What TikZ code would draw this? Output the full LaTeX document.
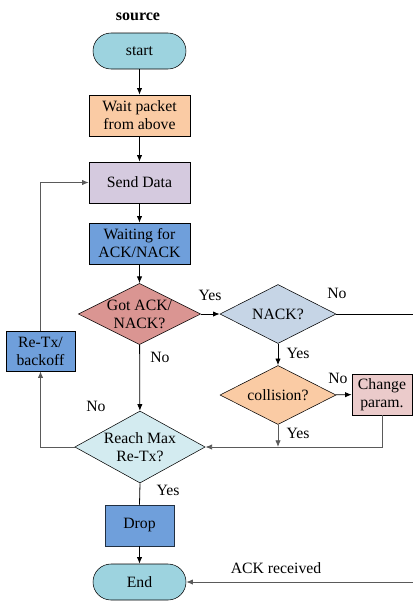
\documentclass[tikz,border=0pt]{standalone}
\usepackage{fontspec}
\setmainfont{Liberation Serif}
\newfontfamily\tnr{Liberation Serif}
\usepackage{xcolor}
\usepackage{tikz}
\usetikzlibrary{calc,shapes.geometric,arrows.meta}
\definecolor{termc}{HTML}{9DD3DF}
\definecolor{peach}{HTML}{FACBA4}
\definecolor{lilac}{HTML}{D5CADF}
\definecolor{blue}{HTML}{6F9FDB}
\definecolor{rose}{HTML}{DA9592}
\definecolor{steel}{HTML}{C6D5E6}
\definecolor{pinkc}{HTML}{EBCBCB}
\definecolor{ice}{HTML}{D3EBF0}
\definecolor{wire}{HTML}{5A5A5A}
\tikzset{
  term/.style={draw=black, fill=termc, rounded corners=13.5pt, minimum width=69.75pt, minimum height=27pt, lab},
  proc/.style={draw=black, rectangle, minimum width=75.75pt, minimum height=30.75pt, align=center, lab},
  small/.style={proc, minimum width=51.75pt, minimum height=30pt},
  dec/.style={draw=black, diamond, aspect=2, inner sep=0pt, minimum width=87pt, minimum height=44.25pt, align=center, lab},
  line/.style={draw=black, line width=0.6pt},
  lineg/.style={draw=wire, line width=0.6pt},
  arr/.style={line, -{Latex[length=5pt,width=4pt]}},
  arrg/.style={lineg, -{Latex[length=5pt,width=4pt]}},
  lab/.style={text=black, font=\tnr\fontsize{11.8}{13.5}\selectfont},
}

\begin{document}
\begin{tikzpicture}[x=0.75pt, y=-0.75pt]
  \useasboundingbox (0,0) rectangle (413,608);
  \node[font=\tnr\fontsize{12}{14}\selectfont\bfseries] (title) at (138,17) {source};

  \node[term] (start) at (139.5,51) {start};
  \node[proc, fill=peach] (wait) at (139.5,115.5) {Wait packet\\from above};
  \node[proc, fill=lilac] (send) at (139.5,182.5) {Send Data};
  \node[proc, fill=blue] (waitack) at (139.5,243.5) {Waiting for\\ACK/NACK};
  \node[dec, fill=rose] (got) at (139.5,314) {Got ACK/\\NACK?};
  \node[dec, fill=steel] (nack) at (278,314) {NACK?};
  \node[dec, fill=peach] (coll) at (278,395) {collision?};
  \node[proc, fill=pinkc, minimum width=45pt, minimum height=29.25pt] (change) at (382,394.5) {Change\\param.};
  \node[small, fill=blue] (retx) at (40.5,351) {Re-Tx/\\backoff};
  \node[dec, fill=ice, minimum width=93pt, minimum height=54pt] (reach) at (140,447) {Reach Max\\Re-Tx?};
  \node[small, fill=blue, draw=black!70!blue, minimum height=30.75pt] (drop) at (139.5,525.5) {Drop};
  \node[term] (end) at (139.5,582) {End};

  \coordinate (nackout) at (413,314);
  \coordinate (ackin) at (413,582);
  \coordinate (join) at (coll.south |- reach.east);

  \draw[arr] (start) -- (wait);
  \draw[arr] (wait) -- (send);
  \draw[arr] (send) -- (waitack);
  \draw[arr] (waitack) -- (got);
  \draw[arr] (got) -- (nack);
  \draw[line] (nack.east) -- (nackout);
  \draw[arr] (nack) -- (coll);
  \draw[arr] (coll) -- (change);
  \draw[arrg] (coll.south) -- (join);
  \draw[arrg] (change.south) |- (reach.east);
  \draw[arr] (got) -- (reach);
  \draw[arrg] (reach.west) -| (retx.south);
  \draw[arrg] (retx.north) |- (send.west);
  \draw[line] (reach.south) -- (drop.north);
  \draw[arr] (drop) -- (end);
  \draw[arrg] (ackin) -- (end.east);

  % branch labels
  \node[lab] at (210,295) {Yes};
  \node[lab] at (337,293) {No};
  \node[lab] at (298,353) {Yes};
  \node[lab] at (338,378) {No};
  \node[lab] at (298,433) {Yes};
  \node[lab] at (160,357) {No};
  \node[lab] at (96,406) {No};
  \node[lab] at (168,490) {Yes};
  \node[lab] at (276,568) {ACK received};
\end{tikzpicture}
\end{document}
